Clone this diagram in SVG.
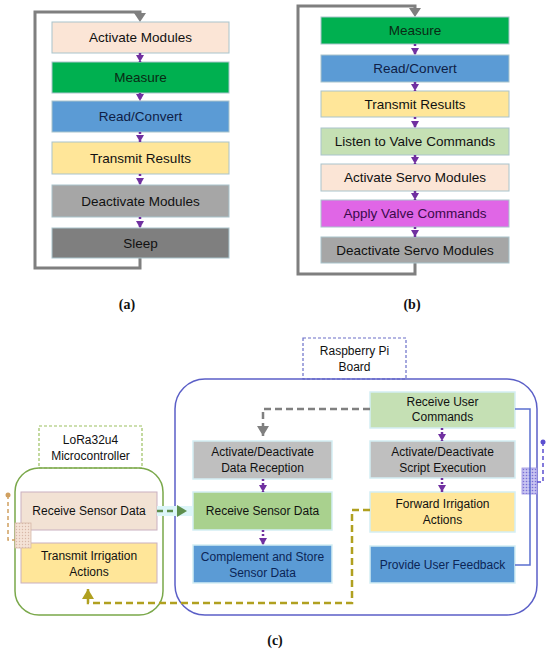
<svg xmlns="http://www.w3.org/2000/svg" width="550" height="657" viewBox="0 0 550 657">
<style>
text{font-family:"Liberation Sans",Arial,sans-serif;text-anchor:middle;fill:#111111}
.t1{font-size:13.5px}
.t2{font-size:12px}
.cap{font-family:"Liberation Serif","Times New Roman",serif;font-size:14px;font-weight:bold}
.bx{stroke:#a9c4cc;stroke-width:1}
.bx2{stroke:#d4eef4;stroke-width:1.5}
.loop{fill:none;stroke:#7f7f7f;stroke-width:3}
.pd{fill:none;stroke:#7030a0;stroke-width:2.5;stroke-dasharray:2 2}
</style>
<defs>
<marker id="pa" markerWidth="8" markerHeight="8" refX="7" refY="4" orient="auto" markerUnits="userSpaceOnUse">
<path d="M0,0 L7,4 L0,8 Z" fill="#7030a0"/>
</marker>
<marker id="ga" markerWidth="12" markerHeight="12" refX="10" refY="6" orient="auto" markerUnits="userSpaceOnUse">
<path d="M0,0 L10,6 L0,12 Z" fill="#808080"/>
</marker>
<marker id="gr" markerWidth="12" markerHeight="12" refX="10" refY="6" orient="auto" markerUnits="userSpaceOnUse">
<path d="M0,0 L10,6 L0,12 Z" fill="#5e8f4e"/>
</marker>
<marker id="ol" markerWidth="12" markerHeight="12" refX="10" refY="6" orient="auto" markerUnits="userSpaceOnUse">
<path d="M0,0 L10,6 L0,12 Z" fill="#b0a020"/>
</marker>
<pattern id="dotO" width="3" height="3" patternUnits="userSpaceOnUse">
<rect width="3" height="3" fill="#f4e2d6"/><circle cx="1.5" cy="1.5" r="0.7" fill="#d8b8a8"/>
</pattern>
<pattern id="dotB" width="3" height="3" patternUnits="userSpaceOnUse">
<rect width="3" height="3" fill="#c8c4f0"/><circle cx="1.5" cy="1.5" r="0.8" fill="#7a70d8"/>
</pattern>
</defs>
<rect width="550" height="657" fill="#ffffff"/>

<!-- Panel (a) -->
<g id="a-loop"><path class="loop" d="M140,258 V268 H35 V12 H140 V14"/><path d="M134,13 L146,13 L140,22 Z" fill="#7f7f7f"/></g>
<g id="a1"><rect class="bx" x="52" y="22" width="177" height="31" fill="#fbe5d6"/><text class="t1" x="140.5" y="42">Activate Modules</text></g>
<g id="a2"><rect class="bx" x="52" y="62" width="177" height="31" fill="#00b050"/><text class="t1" x="140.5" y="82" style="fill:#0a2a14">Measure</text></g>
<g id="a3"><rect class="bx" x="52" y="101" width="177" height="31" fill="#5b9bd5"/><text class="t1" x="140.5" y="121" style="fill:#0f2046">Read/Convert</text></g>
<g id="a4"><rect class="bx" x="52" y="142" width="177" height="32" fill="#ffe699"/><text class="t1" x="140.5" y="163">Transmit Results</text></g>
<g id="a5"><rect class="bx" x="52" y="185" width="177" height="32" fill="#a6a6a6"/><text class="t1" x="140.5" y="206">Deactivate Modules</text></g>
<g id="a6"><rect class="bx" x="52" y="228" width="177" height="30" fill="#7f7f7f"/><text class="t1" x="140.5" y="248">Sleep</text></g>
<g id="a-arrows">
<path class="pd" d="M140,53 V62" marker-end="url(#pa)"/>
<path class="pd" d="M140,93 V101" marker-end="url(#pa)"/>
<path class="pd" d="M140,132 V142" marker-end="url(#pa)"/>
<path class="pd" d="M140,174 V185" marker-end="url(#pa)"/>
<path class="pd" d="M140,217 V228" marker-end="url(#pa)"/>
</g>
<text class="cap" x="127" y="309">(a)</text>

<!-- Panel (b) -->
<g id="b-loop"><path class="loop" d="M415,263 V274 H298 V6 H415 V9"/><path d="M409,8 L421,8 L415,17 Z" fill="#7f7f7f"/></g>
<g id="b1"><rect class="bx" x="321" y="17" width="188" height="27" fill="#00b050"/><text class="t1" x="415" y="35" style="fill:#0a2a14">Measure</text></g>
<g id="b2"><rect class="bx" x="321" y="55" width="188" height="27" fill="#5b9bd5"/><text class="t1" x="415" y="73" style="fill:#0f2046">Read/Convert</text></g>
<g id="b3"><rect class="bx" x="321" y="91" width="188" height="26" fill="#ffe699"/><text class="t1" x="415" y="109">Transmit Results</text></g>
<g id="b4"><rect class="bx" x="321" y="128" width="188" height="27" fill="#c5e0b4"/><text class="t1" x="415" y="146">Listen to Valve Commands</text></g>
<g id="b5"><rect class="bx" x="321" y="164" width="188" height="27" fill="#fbe5d6"/><text class="t1" x="415" y="182">Activate Servo Modules</text></g>
<g id="b6"><rect class="bx" x="321" y="200" width="188" height="27" fill="#e066e6"/><text class="t1" x="415" y="218" style="fill:#3a0a4a">Apply Valve Commands</text></g>
<g id="b7"><rect class="bx" x="321" y="237" width="188" height="26" fill="#a6a6a6"/><text class="t1" x="415" y="255">Deactivate Servo Modules</text></g>
<g id="b-arrows">
<path class="pd" d="M415,44 V55" marker-end="url(#pa)"/>
<path class="pd" d="M415,82 V91" marker-end="url(#pa)"/>
<path class="pd" d="M415,117 V128" marker-end="url(#pa)"/>
<path class="pd" d="M415,155 V164" marker-end="url(#pa)"/>
<path class="pd" d="M415,191 V200" marker-end="url(#pa)"/>
<path class="pd" d="M415,227 V237" marker-end="url(#pa)"/>
</g>
<text class="cap" x="412" y="309">(b)</text>

<!-- Panel (c) -->
<g id="lora">
<rect x="39" y="426" width="103" height="42" fill="#fff" stroke="#9cc060" stroke-width="1.2" stroke-dasharray="3 2"/>
<text class="t2" x="90.5" y="444">LoRa32u4</text>
<text class="t2" x="90.5" y="460">Microcontroller</text>
<rect x="15" y="468" width="148" height="147" rx="24" fill="none" stroke="#7aa84a" stroke-width="1.5"/>
</g>
<g id="rpi">
<rect x="303" y="338" width="103" height="41" fill="#fff" stroke="#6a6fc8" stroke-width="1.2" stroke-dasharray="3 2"/>
<text class="t2" x="354.5" y="355">Raspberry Pi</text>
<text class="t2" x="354.5" y="371">Board</text>
<rect x="175" y="379" width="362" height="236" rx="30" fill="none" stroke="#5b5fc7" stroke-width="1.5"/>
</g>
<g id="c-lora-rx"><rect x="21" y="492" width="136" height="38" fill="#f2e2d4" stroke="#c9b0c0"/><text class="t2" x="89" y="515">Receive Sensor Data</text></g>
<g id="c-lora-tx"><rect x="21" y="543" width="136" height="40" fill="#ffe699" stroke="#c9b0c0"/><text class="t2" x="89" y="560">Transmit Irrigation</text><text class="t2" x="89" y="576">Actions</text></g>
<g id="c-act-rx"><rect class="bx2" x="193" y="441" width="139" height="38" fill="#bfbfbf"/><text class="t2" x="262.5" y="456">Activate/Deactivate</text><text class="t2" x="262.5" y="472">Data Reception</text></g>
<g id="c-rx"><rect class="bx2" x="193" y="492" width="139" height="38" fill="#a9d18e"/><text class="t2" x="262.5" y="515">Receive Sensor Data</text></g>
<g id="c-store"><rect class="bx2" x="193" y="545" width="139" height="38" fill="#5b9bd5"/><text class="t2" x="262.5" y="561" style="fill:#0b2556">Complement and Store</text><text class="t2" x="262.5" y="577" style="fill:#0b2556">Sensor Data</text></g>
<g id="c-user"><rect class="bx2" x="370" y="392" width="145" height="36" fill="#c5e0b4"/><text class="t2" x="442.5" y="406">Receive User</text><text class="t2" x="442.5" y="421">Commands</text></g>
<g id="c-script"><rect class="bx2" x="370" y="441" width="145" height="37" fill="#bfbfbf"/><text class="t2" x="442.5" y="456">Activate/Deactivate</text><text class="t2" x="442.5" y="472">Script Execution</text></g>
<g id="c-fwd"><rect class="bx2" x="370" y="492" width="145" height="40" fill="#ffe699"/><text class="t2" x="442.5" y="508">Forward Irrigation</text><text class="t2" x="442.5" y="524">Actions</text></g>
<g id="c-fb"><rect class="bx2" x="370" y="546" width="145" height="37" fill="#5b9bd5"/><text class="t2" x="442.5" y="569" style="fill:#0b2556">Provide User Feedback</text></g>
<g id="c-ports">
<rect x="15" y="523" width="16" height="25" fill="url(#dotO)" stroke="#d8b8a8" stroke-width="0.8"/>
<rect x="522" y="468" width="15" height="26" fill="url(#dotB)" stroke="#9a90e0" stroke-width="0.8"/>
</g>
<g id="c-connectors">
<rect x="157" y="506" width="36" height="10" fill="#dcf5f8"/>
<path d="M157,511 H187" fill="none" stroke="#5e8f4e" stroke-width="2.5" stroke-dasharray="6 4" marker-end="url(#gr)"/>
<path d="M370,409 H263 V436" fill="none" stroke="#808080" stroke-width="2.5" stroke-dasharray="7 4" marker-end="url(#ga)"/>
<path d="M370,510 H352 V603 H88 V589" fill="none" stroke="#b0a020" stroke-width="2.5" stroke-dasharray="7 4" marker-end="url(#ol)"/>
<path d="M515,409 H530 V565 H515" fill="none" stroke="#5b6fd0" stroke-width="1.5"/>
<path d="M8,495 V540 H15" fill="none" stroke="#d0a060" stroke-width="1.5" stroke-dasharray="4 3"/>
<circle cx="8" cy="495" r="2.5" fill="#d0a060"/>
<path d="M543,442 V482 H537" fill="none" stroke="#5b4fd0" stroke-width="1.5" stroke-dasharray="4 3"/>
<circle cx="543" cy="442" r="2.5" fill="#5b4fd0"/>
<path class="pd" d="M263,479 V492" marker-end="url(#pa)"/>
<path class="pd" d="M263,530 V545" marker-end="url(#pa)"/>
<path class="pd" d="M442,428 V441" marker-end="url(#pa)"/>
<path class="pd" d="M442,478 V492" marker-end="url(#pa)"/>
</g>
<text class="cap" x="275" y="645">(c)</text>
</svg>
